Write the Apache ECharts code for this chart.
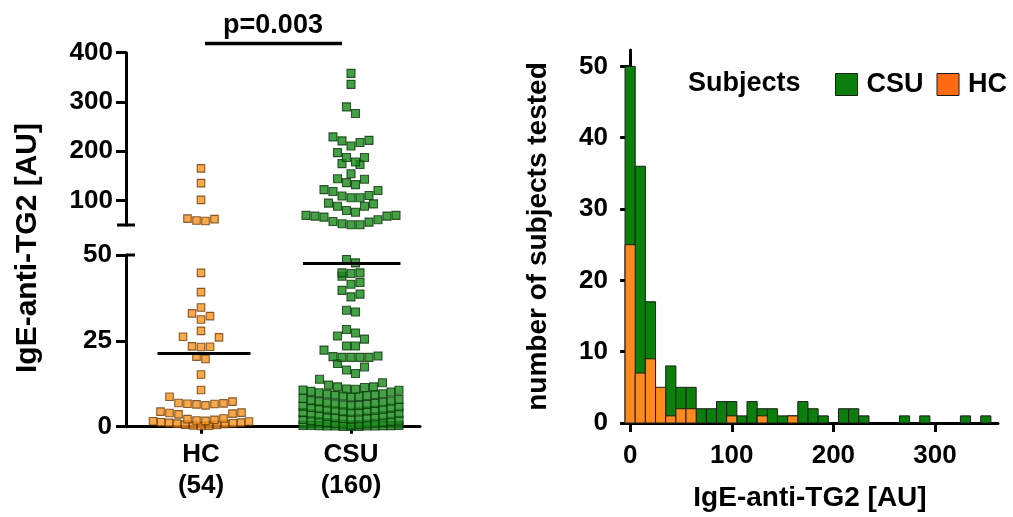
<!DOCTYPE html>
<html><head><meta charset="utf-8">
<script src="https://cdn.jsdelivr.net/npm/echarts@6/dist/echarts.min.js"></script>
<style>html,body{margin:0;padding:0;background:#fff}#c{width:1013px;height:517px}</style>
</head><body><div id="c"></div>
<script>
// ---------------- DATA ----------------
const groups = ['HC', 'CSU'];
const groupCounts = ['(54)', '(160)'];
const hcValues = [165, 135, 101, 63, 59, 58, 62,
  44.8, 39.2, 34.7, 33.0, 32.2, 31.2, 27.9, 26.2, 26.0, 23.3, 23.2, 23.4, 20.4, 19.7, 15.2, 10.7, 8.7, 7.3,
  6.8, 6.6, 6.2, 6.7, 6.9, 6.5, 4.1, 3.6, 4.4, 3.8, 4.0,
  0.2, 0.3, 0.4, 0.5, 0.6, 0.8, 0.9, 1.0, 1.1, 1.2, 1.3, 1.5, 1.6, 1.7, 1.8, 2.0, 2.2, 2.4];
const csuValues = [358, 335.6, 290, 276.6, 222, 217.5, 210.6, 220.8, 229, 187, 178, 173, 174.7, 187, 197,
  144, 136, 132, 143, 154, 121.8, 118, 108.8, 105.5, 105.5, 110, 120, 94.5, 88, 79.6, 76, 88, 93,
  69.5, 69.5, 66, 57, 52.5, 50.4, 50.4, 55.8, 60.7, 68, 68,
  48.7, 47.7, 44.8, 43.8, 44.6, 44.8, 41.5, 42.0, 39.7, 38.6, 37.8, 33.4, 33.9, 28.3, 27.3, 26.4, 25.5,
  23.5, 23.5, 20.6, 20.2, 20.2, 20.2, 20.2, 20.4, 22.3, 17.4, 15.5, 16.5, 18.4, 13.8, 12.1, 11.6, 11.4, 11.6, 12.8,
  11.0, 10.7, 10.9, 10.6, 10.3, 10.1, 9.9, 9.6, 9.5, 9.3, 9.2, 9.0, 8.9, 8.8, 8.6,
  8.2, 7.9, 7.6, 7.5, 7.3, 7.1, 6.9, 6.8, 6.6, 6.5, 6.3, 6.2, 6.1,
  6.0, 5.8, 5.6, 5.4, 5.3, 5.1, 4.9, 4.8, 4.7, 4.6, 4.4, 4.3, 4.2,
  4.1, 3.9, 3.7, 3.5, 3.4, 3.2, 3.0, 2.9, 2.7, 2.6, 2.4, 2.3, 2.2,
  2.1, 1.9, 1.8, 1.6, 1.5, 1.3, 1.2, 1.0, 0.9, 0.8, 0.7, 0.6, 0.5,
  0.4, 0.4, 0.4, 0.3, 0.3, 0.3, 0.2, 0.2, 0.2, 0.2, 0.1, 0.1, 0.1];
const groupMeans = [21.3, 47.5];
const pValueText = 'p=0.003';
const breakValue = 50;
const upperTicks = [100, 200, 300, 400];
const lowerTicks = [0, 25, 50];

const histBins = [0, 10, 20, 30, 40, 50, 60, 70, 80, 90, 100, 110, 120, 130, 140, 150, 160, 170, 180, 190,
  200, 210, 220, 230, 240, 250, 260, 270, 280, 290, 300, 310, 320, 330, 340, 350];
const histBinWidth = 10;
const histCSU = [50, 36, 17, 4, 8, 5, 5, 2, 2, 3, 3, 1, 3, 2, 2, 1, 1, 3, 2, 1, 0, 2, 2, 1, 0, 0, 0, 1, 0, 1, 0, 0, 0, 1, 0, 1];
const histHC  = [25, 7, 9, 5, 1, 2, 2, 0, 0, 0, 1, 0, 0, 1, 0, 0, 1, 0, 0, 0, 0, 0, 0, 0, 0, 0, 0, 0, 0, 0, 0, 0, 0, 0, 0, 0];
const histXTicks = [0, 100, 200, 300];
const histYTicks = [0, 10, 20, 30, 40, 50];

// ---------------- LAYOUT / STYLE ----------------
const FONT = "'Liberation Sans', Arial, sans-serif";
const UP = {left: 126, top: 52.7, width: 294, height: 172.3};
const LO = {left: 126, top: 255, width: 294, height: 171.7};
const HI = {left: 622, top: 50, width: 376, height: 376.7};
const X_MIN = 0.5, X_MAX = 2.46;
const UP_MAX = 400, LO_MAX = 50;
const HIST_X = [-8, 362], HIST_YMAX = 52.3;
const HC_FILL = '#f7941d', HC_EDGE = '#6b3a0a';
const CSU_FILL = '#178a17', CSU_EDGE = '#0a330a';
const BAR_GREEN = '#0b7f0b', BAR_ORANGE = '#fb8b1e';
const MEAN_HALF = 0.31;

const pxPerX = UP.width / (X_MAX - X_MIN);
const BAND = 10.5, CAP = 13, GAP = 9, MAXW = 96;

function swarm(vals, pxPerY, center) {
  const sorted = vals.slice().sort((a, b) => a - b);
  const rows = []; let cur = null;
  for (const v of sorted) {
    if (!cur || cur.length >= CAP || (v - cur[0]) * pxPerY > BAND) { cur = []; rows.push(cur); }
    cur.push(v);
  }
  const pts = [];
  rows.forEach(row => {
    const n = row.length;
    const gap = n > 1 ? Math.min(GAP, MAXW / (n - 1)) : 0;
    const slots = [];
    for (let i = 0; i < n; i++) slots.push((i - (n - 1) / 2) * gap);
    slots.sort((a, b) => Math.abs(a) - Math.abs(b) || b - a);
    row.forEach((v, i) => pts.push([center + slots[i] / pxPerX, v]));
  });
  return pts;
}
const upPx = UP.height / (UP_MAX - breakValue);
const loPx = LO.height / LO_MAX;
const hcUp = swarm(hcValues.filter(v => v >= breakValue), upPx, 1);
const hcLo = swarm(hcValues.filter(v => v < breakValue), loPx, 1);
const csuUp = swarm(csuValues.filter(v => v >= breakValue), upPx, 2);
const csuLo = swarm(csuValues.filter(v => v < breakValue), loPx, 2);

const axisLine = {show: true, lineStyle: {color: '#000', width: 3}};
const tickLbl = {color: '#000', fontSize: 26, fontWeight: 'bold', fontFamily: FONT};
const nameStyle = {fontSize: 28, fontWeight: 'bold', color: '#000', fontFamily: FONT};

function histRender(params, api) {
  const x = api.value(0), y = api.value(1);
  if (!y) return null;
  const p0 = api.coord([x - histBinWidth / 2, 0]);
  const p1 = api.coord([x + histBinWidth / 2, y]);
  return {type: 'rect', shape: {x: p0[0], y: p1[1], width: p1[0] - p0[0], height: p0[1] - p1[1]},
    style: {fill: api.visual('color'), stroke: '#1b1b1b', lineWidth: 1}};
}

const staticGraphic = [
  {type: 'text', x: 28, y: 248, rotation: Math.PI / 2,
    style: {text: 'IgE-anti-TG2 [AU]', font: 'bold 30px ' + FONT, fill: '#000', textAlign: 'center', textVerticalAlign: 'middle'}},
  {type: 'text', x: 273, y: 26,
    style: {text: pValueText, font: 'bold 27px ' + FONT, fill: '#000', textAlign: 'center', textVerticalAlign: 'middle'}},
  {type: 'line', shape: {x1: 205, y1: 43.5, x2: 342, y2: 43.5}, style: {stroke: '#000', lineWidth: 3.5}}
];

const chart = echarts.init(document.getElementById('c'));
chart.setOption({
  animation: false,
  backgroundColor: '#fff',
  textStyle: {fontFamily: FONT},
  grid: [
    Object.assign({containLabel: false}, UP),
    Object.assign({containLabel: false}, LO),
    Object.assign({containLabel: false}, HI)
  ],
  title: {text: 'Subjects', left: 683, top: 65, padding: 5,
    textStyle: {fontSize: 27, fontWeight: 'bold', color: '#000', fontFamily: FONT}},
  legend: {
    data: [{name: 'CSU', itemStyle: {color: '#0a7d0a', borderColor: '#1b1b1b', borderWidth: 1}},
           {name: 'HC', itemStyle: {color: '#ff6a13', borderColor: '#1b1b1b', borderWidth: 1}}],
    left: 830, top: 66, padding: 5, icon: 'rect', itemWidth: 22, itemHeight: 22, itemGap: 13, selectedMode: false,
    textStyle: {fontSize: 27, fontWeight: 'bold', color: '#000', fontFamily: FONT, padding: [0, 0, 0, 4]}
  },
  xAxis: [
    {gridIndex: 0, type: 'value', min: X_MIN, max: X_MAX, show: false},
    {gridIndex: 1, type: 'value', min: X_MIN, max: X_MAX, axisLine: axisLine, splitLine: {show: false},
      axisTick: {show: true, customValues: [1, 2], length: 7, lineStyle: {color: '#000', width: 3}},
      axisLabel: Object.assign({customValues: [1, 2], margin: 13, lineHeight: 31,
        formatter: v => groups[Math.round(v) - 1] + '\n' + groupCounts[Math.round(v) - 1]}, tickLbl)},
    {gridIndex: 2, type: 'value', min: HIST_X[0], max: HIST_X[1], axisLine: axisLine, splitLine: {show: false},
      axisTick: {show: true, customValues: histXTicks, length: 9, lineStyle: {color: '#000', width: 3}},
      axisLabel: Object.assign({customValues: histXTicks, margin: 20}, tickLbl),
      name: 'IgE-anti-TG2 [AU]', nameLocation: 'middle', nameGap: 61, nameTextStyle: nameStyle}
  ],
  yAxis: [
    {gridIndex: 0, type: 'value', min: breakValue, max: UP_MAX, axisLine: axisLine, splitLine: {show: false},
      axisTick: {show: true, customValues: upperTicks, length: 10, lineStyle: {color: '#000', width: 3}},
      axisLabel: Object.assign({customValues: upperTicks, margin: 13}, tickLbl)},
    {gridIndex: 1, type: 'value', min: 0, max: LO_MAX, axisLine: axisLine, splitLine: {show: false},
      axisTick: {show: true, customValues: lowerTicks, length: 10, lineStyle: {color: '#000', width: 3}},
      axisLabel: Object.assign({customValues: lowerTicks, margin: 14}, tickLbl)},
    {gridIndex: 2, type: 'value', min: 0, max: HIST_YMAX, axisLine: axisLine, splitLine: {show: false},
      axisTick: {show: true, customValues: histYTicks, length: 10, lineStyle: {color: '#000', width: 3}},
      axisLabel: Object.assign({customValues: histYTicks, margin: 14}, tickLbl),
      name: 'number of subjects tested', nameLocation: 'middle', nameGap: 70, nameTextStyle: nameStyle}
  ],
  graphic: staticGraphic,
  series: [
    {type: 'scatter', name: 'HC upper', xAxisIndex: 0, yAxisIndex: 0, data: hcUp, symbol: 'rect', symbolSize: 7.5, silent: true,
      itemStyle: {color: HC_FILL, borderColor: HC_EDGE, borderWidth: 1.1}},
    {type: 'scatter', name: 'HC lower', xAxisIndex: 1, yAxisIndex: 1, data: hcLo, symbol: 'rect', symbolSize: 7.5, silent: true,
      itemStyle: {color: HC_FILL, borderColor: HC_EDGE, borderWidth: 1.1}},
    {type: 'scatter', name: 'CSU upper', xAxisIndex: 0, yAxisIndex: 0, data: csuUp, symbol: 'rect', symbolSize: 8, silent: true,
      itemStyle: {color: CSU_FILL, borderColor: CSU_EDGE, borderWidth: 1.1}},
    {type: 'scatter', name: 'CSU lower', xAxisIndex: 1, yAxisIndex: 1, data: csuLo, symbol: 'rect', symbolSize: 8, silent: true,
      itemStyle: {color: CSU_FILL, borderColor: CSU_EDGE, borderWidth: 1.1}},
    {type: 'line', name: 'HC mean', xAxisIndex: 1, yAxisIndex: 1, z: 5, silent: true, symbol: 'none',
      data: [[1 - MEAN_HALF + 0.02, groupMeans[0]], [1 + MEAN_HALF + 0.02, groupMeans[0]]], lineStyle: {color: '#000', width: 3}},
    {type: 'line', name: 'CSU mean', xAxisIndex: 1, yAxisIndex: 1, z: 5, silent: true, symbol: 'none',
      data: [[2 - MEAN_HALF - 0.01, groupMeans[1]], [2 + MEAN_HALF + 0.02, groupMeans[1]]], lineStyle: {color: '#000', width: 3}},
    {type: 'custom', name: 'CSU', xAxisIndex: 2, yAxisIndex: 2, renderItem: histRender, silent: true,
      itemStyle: {color: BAR_GREEN}, encode: {x: 0, y: 1},
      data: histBins.map((b, i) => [b, histCSU[i]])},
    {type: 'custom', name: 'HC', xAxisIndex: 2, yAxisIndex: 2, renderItem: histRender, silent: true,
      itemStyle: {color: BAR_ORANGE}, encode: {x: 0, y: 1},
      data: histBins.map((b, i) => [b, histHC[i]])}
  ]
});

// axis-break marks, positioned through the library's own scales
const pUp = chart.convertToPixel({gridIndex: 0}, [X_MIN, breakValue]);
const pLo = chart.convertToPixel({gridIndex: 1}, [X_MIN, breakValue]);
chart.setOption({graphic: staticGraphic.concat([
  {type: 'line', shape: {x1: pUp[0] - 9, y1: pUp[1], x2: pUp[0] + 9, y2: pUp[1]}, style: {stroke: '#000', lineWidth: 3}},
  {type: 'line', shape: {x1: pLo[0], y1: pLo[1], x2: pLo[0] + 9, y2: pLo[1]}, style: {stroke: '#000', lineWidth: 3}}
])});
</script></body></html>
